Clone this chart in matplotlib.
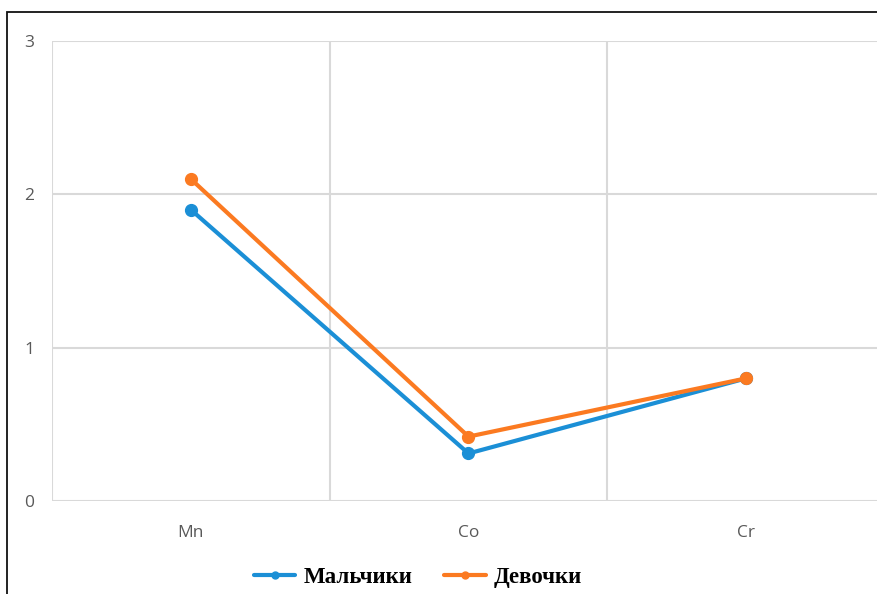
import matplotlib
matplotlib.use("Agg")
import matplotlib.pyplot as plt
from matplotlib.patches import Rectangle

# data
elements = ["Mn", "Co", "Cr"]
boys = [1.90, 0.31, 0.80]
girls = [2.10, 0.42, 0.80]
y_ticks = [0, 1, 2, 3]

W, H = 878, 594
fig = plt.figure(figsize=(W / 100, H / 100), dpi=100)

# axes extends a bit past the right edge, as in the cropped original
ax = fig.add_axes([52 / W, (H - 501) / H, 833 / W, 460 / H])

x = list(range(len(elements)))
ax.plot(x, boys, color="#1b8fd6", lw=3, marker="o", ms=8.5,
        solid_capstyle="round", label="Мальчики", zorder=3)
ax.plot(x, girls, color="#fb7a21", lw=3, marker="o", ms=8.5,
        solid_capstyle="round", label="Девочки", zorder=4)

ax.set_xlim(-0.5, len(elements) - 0.5)
ax.set_ylim(0, 3)
ax.set_yticks(y_ticks)
ax.set_xticks(x)
ax.set_xticklabels(elements)
ax.set_xticks([i - 0.5 for i in range(len(elements) + 1)], minor=True)

ax.grid(True, which="minor", axis="x", color="#d9d9d9", lw=1.5)
ax.grid(True, which="major", axis="y", color="#d9d9d9", lw=1.5)
ax.set_axisbelow(True)
for s in ax.spines.values():
    s.set_visible(False)

ax.tick_params(axis="both", which="both", length=0, labelsize=12.5,
               labelcolor="#595959")
ax.tick_params(axis="x", pad=17.5)
ax.tick_params(axis="y", pad=13)
for lab in ax.get_xticklabels() + ax.get_yticklabels():
    lab.set_fontfamily("Open Sans")

leg = fig.legend(loc="center", bbox_to_anchor=(418 / W, (H - 577) / H),
                 ncol=2, frameon=False, handlelength=1.8, handletextpad=0.35,
                 columnspacing=1.4,
                 prop={"family": "Liberation Serif", "size": 16.5, "weight": "bold"})
for h in leg.legend_handles:
    h.set_markersize(5)

# black frame around the picture, cut off on the right and bottom
fig.patches.append(Rectangle((7 / W, -0.1), 1.2, (H - 12) / H + 0.1,
                             transform=fig.transFigure, fill=False,
                             edgecolor="#111111", lw=1.3))

fig.savefig("out.png", dpi=100)
